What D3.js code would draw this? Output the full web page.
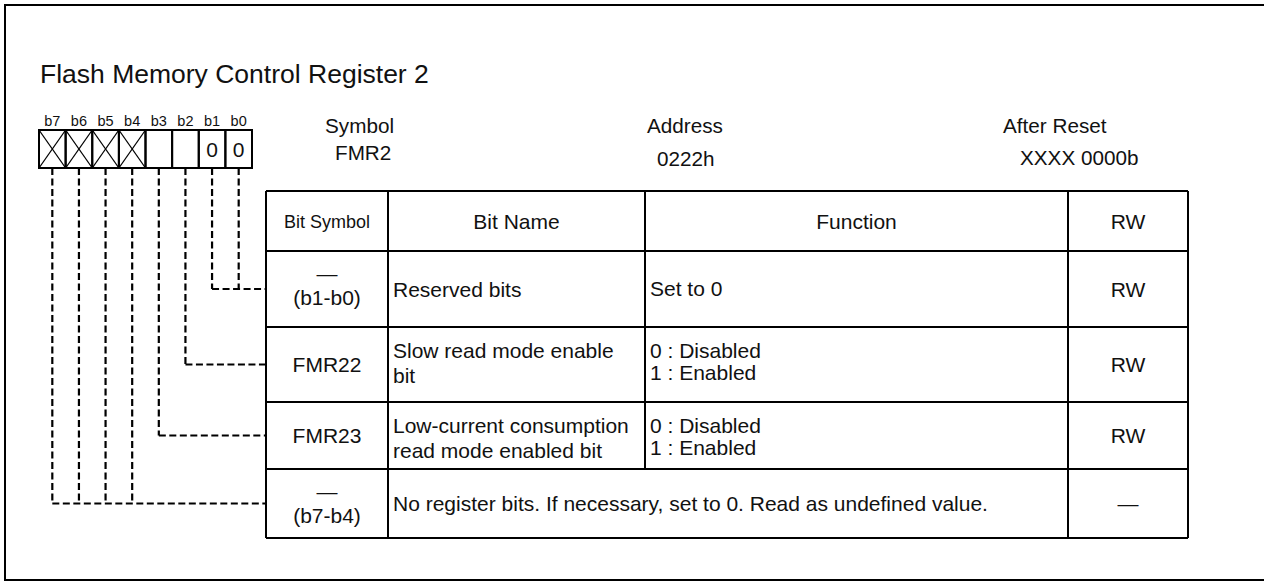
<!DOCTYPE html>
<html>
<head>
<meta charset="utf-8">
<script src="https://cdn.jsdelivr.net/npm/d3@7"></script>
<style>
  html, body { margin: 0; padding: 0; background: #fff; }
  svg { display: block; }
  text { font-family: "Liberation Sans", Arial, Helvetica, sans-serif; fill: #111; }
</style>
</head>
<body>
<script>
// ---------- data ----------
const title = "Flash Memory Control Register 2";
const bits = ["b7", "b6", "b5", "b4", "b3", "b2", "b1", "b0"];
const bitCells = ["x", "x", "x", "x", "", "", "0", "0"];
const headerLabels = ["Symbol", "Address", "After Reset"];
const headerValues = ["FMR2", "0222h", "XXXX 0000b"];
const columns = ["Bit Symbol", "Bit Name", "Function", "RW"];
const bitSymbols = [["\u2014", "(b1-b0)"], ["FMR22"], ["FMR23"], ["\u2014", "(b7-b4)"]];
const bitNames = [["Reserved bits"], ["Slow read mode enable", "bit"], ["Low-current consumption", "read mode enabled bit"], null];
const functions = [["Set to 0"], ["0 : Disabled", "1 : Enabled"], ["0 : Disabled", "1 : Enabled"], ["No register bits. If necessary, set to 0. Read as undefined value."]];
const rwValues = ["RW", "RW", "RW", "\u2014"];
const rowBits = [["b1", "b0"], ["b2"], ["b3"], ["b7", "b6", "b5", "b4"]];

// ---------- layout ----------
const W = 1264, H = 581;
const svg = d3.select("body").append("svg").attr("width", W).attr("height", H);

// outer frame (right edge runs past the window)
svg.append("rect").attr("x", 5).attr("y", 5).attr("width", 1300).attr("height", 575)
  .attr("fill", "none").attr("stroke", "#000").attr("stroke-width", 2);

svg.append("text").attr("x", 40).attr("y", 83).attr("font-size", 26.5).text(title);

// bit boxes
const xb = d3.scaleBand().domain(bits).range([39, 252]);
const boxTop = 130, boxBot = 168;
const g = svg.append("g");
g.selectAll("text.bl").data(bits).join("text").attr("class", "bl")
  .attr("x", d => xb(d) + xb.bandwidth() / 2).attr("y", 126).attr("text-anchor", "middle")
  .attr("font-size", 14.5).text(d => d);
g.selectAll("rect.bc").data(bits).join("rect").attr("class", "bc")
  .attr("x", d => xb(d)).attr("y", boxTop).attr("width", xb.bandwidth()).attr("height", boxBot - boxTop)
  .attr("fill", "none").attr("stroke", "#000").attr("stroke-width", 2);
bits.forEach((b, i) => {
  const x0 = xb(b), x1 = x0 + xb.bandwidth();
  if (bitCells[i] === "x") {
    g.append("line").attr("x1", x0).attr("y1", boxTop).attr("x2", x1).attr("y2", boxBot).attr("stroke", "#000").attr("stroke-width", 1.3);
    g.append("line").attr("x1", x1).attr("y1", boxTop).attr("x2", x0).attr("y2", boxBot).attr("stroke", "#000").attr("stroke-width", 1.3);
  } else if (bitCells[i] !== "") {
    g.append("text").attr("x", (x0 + x1) / 2).attr("y", 157).attr("text-anchor", "middle").attr("font-size", 21).text(bitCells[i]);
  }
});

// header labels
const hdrX = [325, 647, 1003];
const valX = [335, 657, 1020];
const valY = [160, 166, 165];
headerLabels.forEach((t, i) => {
  svg.append("text").attr("x", hdrX[i]).attr("y", 133).attr("font-size", 20.7).text(t);
  svg.append("text").attr("x", valX[i]).attr("y", valY[i]).attr("font-size", 20.7).text(headerValues[i]);
});

// table
const colEdges = [266, 388, 645, 1068, 1188];
const rowEdges = [191, 251, 327, 402, 469, 538];
const t = svg.append("g");
const line = (x1, y1, x2, y2) => t.append("line").attr("x1", x1).attr("y1", y1).attr("x2", x2).attr("y2", y2)
  .attr("stroke", "#000").attr("stroke-width", 2);
rowEdges.forEach(y => line(colEdges[0], y, colEdges[4], y));
[0, 1, 3, 4].forEach(c => line(colEdges[c], rowEdges[0], colEdges[c], rowEdges[5]));
line(colEdges[2], rowEdges[0], colEdges[2], rowEdges[4]);

const cx = c => (colEdges[c] + colEdges[c + 1]) / 2;
const cy = r => (rowEdges[r] + rowEdges[r + 1]) / 2;

columns.forEach((c, i) => {
  t.append("text").attr("x", cx(i)).attr("y", cy(0) + (i === 0 ? 6.5 : 7.5)).attr("text-anchor", "middle")
    .attr("font-size", i === 0 ? 18 : 21).text(c);
});

for (let r = 0; r < 4; r++) {
  const top = rowEdges[r + 1], mid = cy(r + 1);
  const sym = bitSymbols[r];
  if (sym.length === 2) {
    t.append("text").attr("x", cx(0)).attr("y", top + 30).attr("text-anchor", "middle").attr("font-size", 21).text(sym[0]);
    t.append("text").attr("x", cx(0)).attr("y", top + 54).attr("text-anchor", "middle").attr("font-size", 21).text(sym[1]);
  } else {
    t.append("text").attr("x", cx(0)).attr("y", mid + 7.5).attr("text-anchor", "middle").attr("font-size", 21).text(sym[0]);
  }
  const nm = bitNames[r];
  if (nm) {
    if (nm.length === 1) t.append("text").attr("x", colEdges[1] + 5).attr("y", mid + 7.5).attr("font-size", 21).text(nm[0]);
    else nm.forEach((s, k) => t.append("text").attr("x", colEdges[1] + 5).attr("y", top + 30.5 + k * 25).attr("font-size", 21).text(s));
  }
  const fn = functions[r];
  const fx = nm ? colEdges[2] + 5 : colEdges[1] + 5;
  if (fn.length === 1) t.append("text").attr("x", fx).attr("y", mid + 7).attr("font-size", 21).text(fn[0]);
  else fn.forEach((s, k) => t.append("text").attr("x", fx).attr("y", top + 30.5 + k * 22).attr("font-size", 21).text(s));
  t.append("text").attr("x", cx(3)).attr("y", mid + 7.5).attr("text-anchor", "middle").attr("font-size", 21).text(rwValues[r]);
}

// dashed connectors
const dg = svg.append("g").attr("fill", "none").attr("stroke", "#000").attr("stroke-width", 2.2).attr("stroke-dasharray", "7,3.5");
rowBits.forEach((bs, r) => {
  const y = cy(r + 1);
  const xs = bs.map(b => xb(b) + xb.bandwidth() / 2);
  xs.forEach(x => dg.append("path").attr("d", `M${x},${boxBot}V${y}`));
  dg.append("path").attr("d", `M${d3.min(xs)},${y}H${colEdges[0]}`);
});
</script>
</body>
</html>
